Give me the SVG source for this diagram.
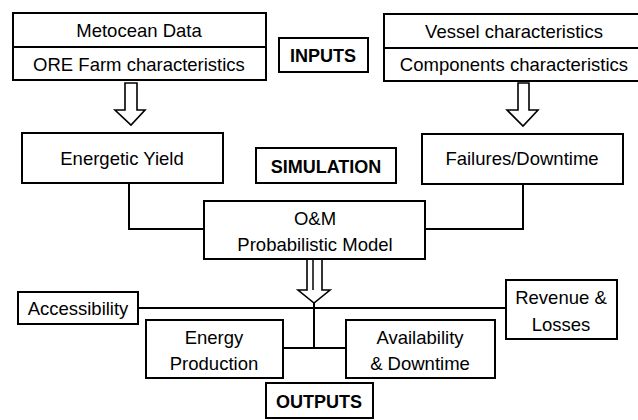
<svg xmlns="http://www.w3.org/2000/svg" width="638" height="420" viewBox="0 0 638 420">
<style>
rect{fill:#fff;stroke:#000;stroke-width:2}
.ln{fill:none;stroke:#000;stroke-width:2}
.ar{fill:#fff;stroke:#000;stroke-width:1.6;stroke-linejoin:miter}
text{font-family:"Liberation Sans",Arial,sans-serif;font-size:18.5px;fill:#000;text-anchor:middle}
.b{font-weight:bold;font-size:18px}
</style>
<rect x="0" y="0" width="638" height="420" style="fill:#fff;stroke:none"/>
<g id="connectors">
<path class="ln" d="M129,183 V229 H204"/>
<path class="ln" d="M523,184 V229 H425"/>
<path class="ln" d="M138,308 H506"/>
<path class="ln" d="M314,259 V348"/>
<path class="ln" d="M283,348 H346"/>
<path class="ar" d="M125,83 H137 V110 H145 L131,125 L115,110 H125 Z"/>
<path class="ar" d="M518,83 H529 V110 H538 L523,126 L507,110 H518 Z"/>
<path class="ar" d="M307,259 H322 V290 H330 L314,303 L298,290 H307 Z"/>
<path class="ln" d="M313,259 V290" style="stroke-width:1.5"/>
</g>
<g id="inputs-left">
<rect x="13" y="13" width="253" height="67"/>
<line class="ln" x1="13" y1="47" x2="266" y2="47"/>
<text x="139" y="37">Metocean Data</text>
<text x="139" y="71">ORE Farm characteristics</text>
</g>
<g id="inputs-label">
<rect x="279" y="38" width="89" height="34"/>
<text class="b" x="323" y="62">INPUTS</text>
</g>
<g id="inputs-right">
<rect x="384" y="14" width="256" height="67"/>
<line class="ln" x1="384" y1="48" x2="640" y2="48"/>
<text x="514" y="38">Vessel characteristics</text>
<text x="514" y="71">Components characteristics</text>
</g>
<g id="energetic-yield">
<rect x="22" y="133" width="201" height="50"/>
<text x="122" y="165">Energetic Yield</text>
</g>
<g id="simulation-label">
<rect x="256" y="148" width="140" height="35"/>
<text class="b" x="326" y="173">SIMULATION</text>
</g>
<g id="failures">
<rect x="422" y="134" width="201" height="50"/>
<text x="522" y="165">Failures/Downtime</text>
</g>
<g id="om-model">
<rect x="204" y="201" width="221" height="58"/>
<text x="315" y="225">O&amp;M</text>
<text x="315" y="251">Probabilistic Model</text>
</g>
<g id="accessibility">
<rect x="18" y="292" width="120" height="32"/>
<text x="78" y="315">Accessibility</text>
</g>
<g id="energy-production">
<rect x="146" y="320" width="137" height="58"/>
<text x="214" y="344">Energy</text>
<text x="214" y="370">Production</text>
</g>
<g id="availability">
<rect x="346" y="320" width="149" height="58"/>
<text x="420" y="344">Availability</text>
<text x="420" y="370">&amp; Downtime</text>
</g>
<g id="revenue">
<rect x="506" y="280" width="111" height="59"/>
<text x="561" y="304">Revenue &amp;</text>
<text x="561" y="331">Losses</text>
</g>
<g id="outputs-label">
<rect x="266" y="383" width="107" height="35"/>
<text class="b" x="319" y="408">OUTPUTS</text>
</g>
</svg>
